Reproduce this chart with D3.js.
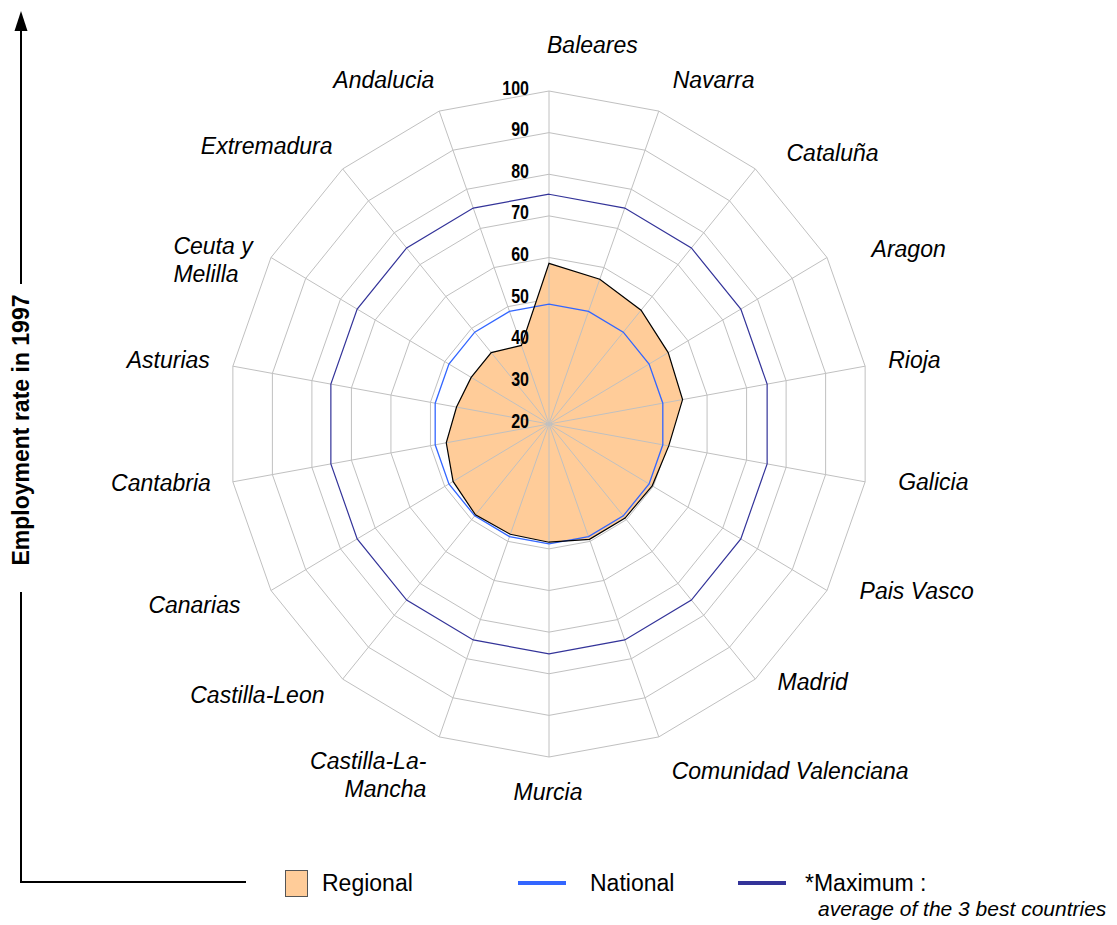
<!DOCTYPE html>
<html>
<head>
<meta charset="utf-8">
<script src="https://cdn.jsdelivr.net/npm/d3@7"></script>
<style>
  body { margin: 0; background: #fff; }
  text { font-family: "Liberation Sans", Arial, sans-serif; }
</style>
</head>
<body>
<div id="chart"></div>
<script>
// Employment rate by Spanish region, 1997
const categories = ["Baleares", "Navarra", "Cataluña", "Aragon", "Rioja", "Galicia", "Pais Vasco", "Madrid",
    "Comunidad Valenciana", "Murcia", "Castilla-La-Mancha", "Castilla-Leon", "Canarias", "Cantabria",
    "Asturias", "Ceuta y Melilla", "Extremadura", "Andalucia"];
const regional = [58.6, 57.0, 55.7, 54.3, 53.8, 50.3, 49.7, 49.5, 49.5, 48.4, 48.2, 48.5, 47.6, 46.0, 43.4, 42.4, 42.4, 40.1];
const national = [48.8, 48.8, 48.8, 48.8, 48.8, 48.8, 48.8, 48.8, 48.8, 48.8, 48.8, 48.8, 48.8, 48.8, 48.8, 48.8, 48.8, 48.8];
const maximum = [75.2, 75.2, 75.2, 75.2, 75.2, 75.2, 75.2, 75.2, 75.2, 75.2, 75.2, 75.2, 75.2, 75.2, 75.2, 75.2, 75.2, 75.2];
const ticks = [20, 30, 40, 50, 60, 70, 80, 90, 100];
const legendLabels = ["Regional", "National", "*Maximum :"];
const legendNote = "average of the 3 best countries";
const axisTitle = "Employment rate in 1997";

// layout only: line breaks, alignment overrides and small label nudges
const labelLines = { "Ceuta y Melilla": ["Ceuta y", "Melilla"], "Castilla-La-Mancha": ["Castilla-La-", "Mancha"] };
const labelAlign = { "Ceuta y Melilla": "start" };
const labelNudge = [[-2, -7], [1, 6], [7, 14], [12, 11], [-14, 1], [-4, -7], [0, -19], [-2, -27], [0, -3],
    [-1, -4], [0, 1], [6, -14], [2, -5], [15, -6], [14, 1], [-65, 22], [14, 7], [8, 6]];

const width = 1117, height = 925;
const cx = 549, cy = 424, kx = 0.964;   // chart is slightly squeezed horizontally

const r = d3.scaleLinear().domain([20, 100]).range([0, 333]);
const angle = d3.scaleLinear().domain([0, categories.length]).range([0, 2 * Math.PI]);
const px = (i, v) => cx + kx * r(v) * Math.sin(angle(i));
const py = (i, v) => cy - r(v) * Math.cos(angle(i));

const radarLine = d3.line()
    .x(d => px(d[0], d[1]))
    .y(d => py(d[0], d[1]))
    .curve(d3.curveLinearClosed);
const toPts = vals => vals.map((v, i) => [i, v]);

const svg = d3.select('#chart')
    .append('svg')
    .attr('width', width)
    .attr('height', height);

// Grid rings (hidden under the regional fill)
const grid = svg.append('g').attr('fill', 'none').attr('stroke', '#c0c0c0').attr('stroke-width', 1);
ticks.slice(1).forEach(t => {
    grid.append('path').attr('d', radarLine(categories.map((c, i) => [i, t])));
});

// Regional fill
svg.append('path')
    .attr('d', radarLine(toPts(regional)))
    .attr('fill', '#ffcc99')
    .attr('stroke', 'none');

// Spokes drawn over the fill
svg.append('g')
    .attr('stroke', '#c0c0c0')
    .attr('stroke-width', 1)
    .selectAll('line')
    .data(categories)
    .enter().append('line')
    .attr('x1', cx).attr('y1', cy)
    .attr('x2', (d, i) => px(i, 100))
    .attr('y2', (d, i) => py(i, 100));

// Maximum and national lines
svg.append('path')
    .attr('d', radarLine(toPts(maximum)))
    .attr('fill', 'none')
    .attr('stroke', '#333399')
    .attr('stroke-width', 1.2);

svg.append('path')
    .attr('d', radarLine(toPts(national)))
    .attr('fill', 'none')
    .attr('stroke', '#3366ff')
    .attr('stroke-width', 1.3);

// Regional outline
svg.append('path')
    .attr('d', radarLine(toPts(regional)))
    .attr('fill', 'none')
    .attr('stroke', '#000')
    .attr('stroke-width', 1.2);

// Radial tick labels (bold, condensed)
svg.selectAll('.tick')
    .data(ticks)
    .enter().append('text')
    .attr('class', 'tick')
    .attr('transform', d => `translate(${cx - 20},${cy - r(d) + 3.5}) scale(0.8,1)`)
    .attr('text-anchor', 'end')
    .style('font-weight', 'bold')
    .style('font-size', '20px')
    .text(d => d);

// Category labels
const LR = 372;
svg.selectAll('.cat')
    .data(categories)
    .enter().append('text')
    .attr('class', 'cat')
    .style('font-style', 'italic')
    .style('font-size', '23px')
    .attr('text-anchor', (d, i) => {
        if (labelAlign[d]) return labelAlign[d];
        const a = angle(i);
        if (Math.abs(a - Math.PI) < 1e-6) return 'middle';
        return a < Math.PI ? 'start' : 'end';
    })
    .each(function (d, i) {
        const x = cx + kx * LR * Math.sin(angle(i)) + labelNudge[i][0];
        const y = cy - LR * Math.cos(angle(i)) + 8 + labelNudge[i][1];
        const lines = labelLines[d] || [d];
        const lh = 28;
        const y0 = y - (lines.length - 1) * lh / 2;
        d3.select(this).selectAll('tspan')
            .data(lines)
            .enter().append('tspan')
            .attr('x', x)
            .attr('y', (t, j) => y0 + j * lh)
            .text(t => t);
    });

// Left axis with arrow and rotated title
const axis = svg.append('g').attr('stroke', '#000').attr('stroke-width', 2);
axis.append('line').attr('x1', 21).attr('y1', 28).attr('x2', 21).attr('y2', 284);
axis.append('line').attr('x1', 21).attr('y1', 592).attr('x2', 21).attr('y2', 883);
axis.append('line').attr('x1', 20).attr('y1', 882).attr('x2', 246).attr('y2', 882);
svg.append('path')
    .attr('d', 'M21,11 L14.5,31 L27.5,31 Z')
    .attr('fill', '#000');

svg.append('text')
    .attr('transform', 'translate(21,430) rotate(-90)')
    .attr('text-anchor', 'middle')
    .attr('dominant-baseline', 'central')
    .style('font-weight', 'bold')
    .style('font-size', '23px')
    .text(axisTitle);

// Legend
const legend = svg.append('g');
legend.append('rect')
    .attr('x', 285.5).attr('y', 870.5)
    .attr('width', 22).attr('height', 26)
    .attr('fill', '#ffcc99')
    .attr('stroke', '#555')
    .attr('stroke-width', 1);
legend.append('line')
    .attr('x1', 518).attr('x2', 566).attr('y1', 883).attr('y2', 883)
    .attr('stroke', '#3366ff').attr('stroke-width', 4);
legend.append('line')
    .attr('x1', 738).attr('x2', 786).attr('y1', 883).attr('y2', 883)
    .attr('stroke', '#333399').attr('stroke-width', 4);

const legendX = [322, 590, 805];
legend.selectAll('.leg')
    .data(legendLabels)
    .enter().append('text')
    .attr('class', 'leg')
    .attr('x', (d, i) => legendX[i])
    .attr('y', 891)
    .style('font-size', '23px')
    .text(d => d);

legend.append('text')
    .attr('x', 818)
    .attr('y', 916)
    .style('font-style', 'italic')
    .style('font-size', '21px')
    .text(legendNote);
</script>
</body>
</html>
